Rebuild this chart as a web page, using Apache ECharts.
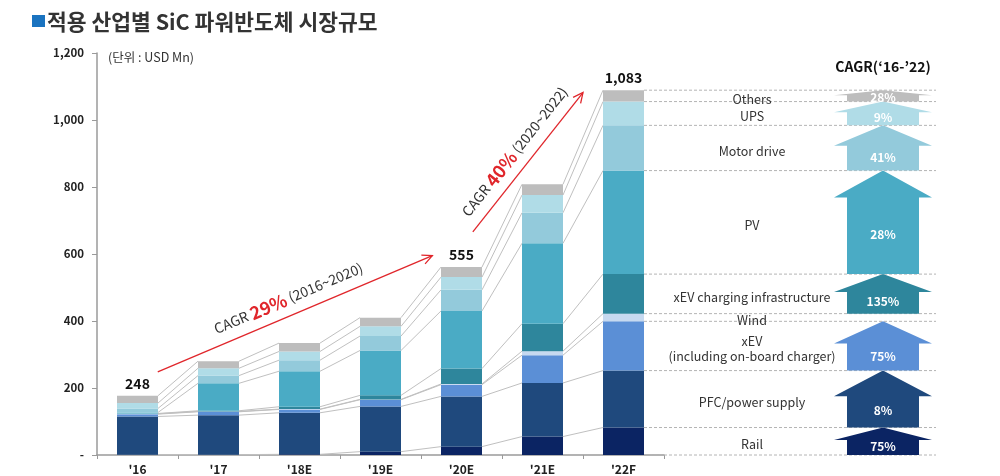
<!DOCTYPE html>
<html><head><meta charset="utf-8">
<script src="https://cdn.jsdelivr.net/npm/echarts@6/dist/echarts.min.js"></script>
<style>html,body{margin:0;padding:0;background:#fff}#c{width:1000px;height:476px}</style>
</head><body><div id="c"></div>
<script>
// ---- data ----
const categories = ["'16", "'17", "'18E", "'19E", "'20E", "'21E", "'22F"];
const segmentNames = ['Rail', 'PFC/power supply', 'xEV\n(including on-board charger)', 'Wind',
  'xEV charging infrastructure', 'PV', 'Motor drive', 'UPS', 'Others'];
const rail     = [1, 1, 2, 10, 25, 55, 82];
const pfc      = [114, 118, 124, 135, 150, 160, 170];
const xev      = [7, 10, 10, 20, 35, 83, 147];
const wind     = [1, 1, 1, 1, 2, 12, 23];
const charging = [1, 2, 7, 12, 46, 82, 118];
const pv       = [3, 82, 106, 134, 172, 240, 309];
const motor    = [12, 23, 33, 43, 63, 91, 135];
const ups      = [16, 22, 26, 29, 38, 53, 71];
const others   = [22, 21, 25, 26, 30, 32, 34];
const segmentCagr = ['75%', '8%', '75%', '', '135%', '28%', '41%', '9%', '28%'];
const totalLabels = [248, null, null, null, 555, null, 1083];
const yTickValues = [0, 200, 400, 600, 800, 1000, 1200];
const cagrRates = ['29%', '40%'];
const cagrPeriods = ['(2016~2020)', '(2020~2022)'];
const cagrFrom = [[0, 248], [4, 666]];
const cagrTo = [[4, 595], [6, 1082]];

// ---- style / layout ----
const FONT = '"Noto Sans CJK KR", "Noto Sans", sans-serif';
const colors = ['#0b2463', '#1f497d', '#5b8fd6', '#c6d9f0', '#2e869c', '#4aabc5', '#93cadb', '#b0dce7', '#bdbdbd'];
const BAR_W = 41;
const cagrFromShift = [0.25, 0.14];
const cagrToShift = [-0.36, -0.5];

const seriesData = [rail, pfc, xev, wind, charging, pv, motor, ups, others];
const cum = [];
seriesData.forEach((arr, k) => cum.push(arr.map((v, i) => v + (k ? cum[k - 1][i] : 0))));
const last = categories.length - 1;
const topK = seriesData.length - 1;

const chart = echarts.init(document.getElementById('c'), null, { renderer: 'canvas' });

const barSeries = seriesData.map((arr, k) => ({
  name: segmentNames[k], type: 'bar', stack: 'total', barWidth: BAR_W, data: arr,
  itemStyle: { color: colors[k] }, z: 3, silent: true
}));

const connectorSeries = {
  type: 'custom', z: 2, silent: true, clip: false,
  data: categories.slice(0, last).map((c, i) => [i, cum[topK][i]]),
  renderItem(params, api) {
    const i = params.dataIndex;
    const children = [];
    for (let k = 0; k < seriesData.length; k++) {
      const a = api.coord([i, cum[k][i]]);
      const b = api.coord([i + 1, cum[k][i + 1]]);
      children.push({ type: 'line', shape: { x1: a[0] + BAR_W / 2, y1: a[1], x2: b[0] - BAR_W / 2, y2: b[1] },
        style: { stroke: '#c0c0c0', lineWidth: 1 } });
    }
    return { type: 'group', children };
  }
};

const totalsSeries = {
  type: 'custom', z: 5, silent: true, clip: false,
  data: categories.map((c, i) => [i, cum[topK][i]]),
  renderItem(params, api) {
    const i = params.dataIndex;
    const t = totalLabels[i];
    if (t == null) return { type: 'group', children: [] };
    const p = api.coord([i, cum[topK][i]]);
    return { type: 'text', x: p[0], y: p[1] - 5,
      style: { text: t.toLocaleString('en-US'), align: 'center', verticalAlign: 'bottom',
        font: `bold 14px ${FONT}`, fill: '#111' } };
  }
};

const rightSeries = {
  type: 'custom', z: 4, silent: true, clip: false,
  data: segmentNames.map((n, k) => [last, cum[k][last]]),
  renderItem(params, api) {
    const k = params.dataIndex;
    const cs = params.coordSys;
    const right = cs.x + cs.width;
    const top = api.coord([last, cum[k][last]]);
    const bot = api.coord([last, k ? cum[k - 1][last] : 0]);
    const x0 = top[0] + BAR_W / 2, x1 = right + 272;
    const dash = { stroke: '#b4b4b4', lineWidth: 1, lineDash: [3, 2] };
    const children = [];
    children.push({ type: 'line', shape: { x1: x0, y1: top[1], x2: x1, y2: top[1] }, style: dash });
    if (k === 0) children.push({ type: 'line', shape: { x1: x0, y1: bot[1], x2: x1, y2: bot[1] }, style: dash });
    children.push({ type: 'text', x: right + 88, y: (top[1] + bot[1]) / 2 + 3,
      style: { text: segmentNames[k], align: 'center', verticalAlign: 'middle', font: `12.5px ${FONT}`,
        fill: '#333', lineHeight: 15 } });
    if (segmentCagr[k]) {
      const cx = right + 219, hw = 49, bw = 36;
      const h = bot[1] - top[1];
      const head = Math.min(h * 0.45, 27);
      const hb = top[1] + head;
      children.push({ type: 'polygon', shape: { points: [
        [cx, top[1]], [cx + hw, hb], [cx + bw, hb], [cx + bw, bot[1]], [cx - bw, bot[1]], [cx - bw, hb], [cx - hw, hb]
      ] }, style: { fill: colors[k] } });
      children.push({ type: 'text', x: cx, y: (hb + bot[1]) / 2 - 1,
        style: { text: segmentCagr[k], align: 'center', verticalAlign: 'middle', font: `bold 12px ${FONT}`, fill: '#fff' } });
    }
    return { type: 'group', children };
  }
};

const cagrSeries = {
  type: 'custom', z: 6, silent: true, clip: false,
  data: cagrRates.map((r, j) => cagrFrom[j]),
  renderItem(params, api) {
    const j = params.dataIndex;
    const band = api.coord([1, 0])[0] - api.coord([0, 0])[0];
    const a = api.coord(cagrFrom[j]); a[0] += cagrFromShift[j] * band;
    const b = api.coord(cagrTo[j]); b[0] += cagrToShift[j] * band;
    const ang = Math.atan2(b[1] - a[1], b[0] - a[0]);
    const hl = 11, ha = 0.45;
    const h1 = [b[0] - hl * Math.cos(ang - ha), b[1] - hl * Math.sin(ang - ha)];
    const h2 = [b[0] - hl * Math.cos(ang + ha), b[1] - hl * Math.sin(ang + ha)];
    const nx = Math.sin(ang), ny = -Math.cos(ang);
    const mx = (a[0] + b[0]) / 2 + nx * 17, my = (a[1] + b[1]) / 2 + ny * 17;
    const red = '#e0262b';
    return { type: 'group', children: [
      { type: 'line', shape: { x1: a[0], y1: a[1], x2: b[0], y2: b[1] }, style: { stroke: red, lineWidth: 1.3 } },
      { type: 'polyline', shape: { points: [h1, b, h2] }, style: { stroke: red, lineWidth: 1.3, fill: null } },
      { type: 'text', x: mx, y: my, rotation: -ang,
        style: { text: `{a|CAGR }{b|${cagrRates[j]}}{a| ${cagrPeriods[j]}}`, align: 'center', verticalAlign: 'middle',
          rich: { a: { fontFamily: FONT, fontSize: 14, fill: '#333', color: '#333' },
                  b: { fontFamily: FONT, fontSize: 18, fontWeight: 'bold', fill: red, color: red } } } }
    ] };
  }
};

chart.setOption({
  animation: false,
  backgroundColor: '#fff',
  textStyle: { fontFamily: FONT },
  grid: { left: 97, right: 336, top: 53, bottom: 21, outerBoundsMode: 'none', containLabel: false },
  xAxis: {
    type: 'category', data: categories,
    axisLine: { lineStyle: { color: '#9a9a9a', width: 1.5 } },
    axisTick: { show: true, length: 4, lineStyle: { color: '#9a9a9a' } },
    axisLabel: { fontWeight: 'bold', fontSize: 12, color: '#222', margin: 8, fontFamily: FONT }
  },
  yAxis: {
    type: 'value', min: yTickValues[0], max: yTickValues[yTickValues.length - 1], interval: yTickValues[1] - yTickValues[0],
    axisLine: { show: true, lineStyle: { color: '#9a9a9a', width: 1.5 } },
    axisTick: { show: true, length: 5, lineStyle: { color: '#9a9a9a' } },
    splitLine: { show: false },
    axisLabel: { formatter: v => v === 0 ? '-' : v.toLocaleString('en-US'), fontWeight: 'bold', fontSize: 11.5,
      color: '#222', margin: 13, fontFamily: FONT }
  },
  graphic: [
    { type: 'rect', shape: { x: 32, y: 15, width: 13, height: 12 }, style: { fill: '#1a73c0' } },
    { type: 'text', x: 47, y: 22, style: { text: '적용 산업별 SiC 파워반도체 시장규모', font: `bold 21.5px ${FONT}`,
      fill: '#333', verticalAlign: 'middle' } },
    { type: 'text', x: 108, y: 57, style: { text: '(단위 : USD Mn)', font: `12.5px ${FONT}`, fill: '#333', verticalAlign: 'middle' } },
    { type: 'text', x: 883, y: 67, style: { text: 'CAGR(‘16-’22)', font: `bold 14px ${FONT}`, fill: '#111',
      align: 'center', verticalAlign: 'middle' } }
  ],
  series: [...barSeries, connectorSeries, totalsSeries, rightSeries, cagrSeries]
});
</script></body></html>
